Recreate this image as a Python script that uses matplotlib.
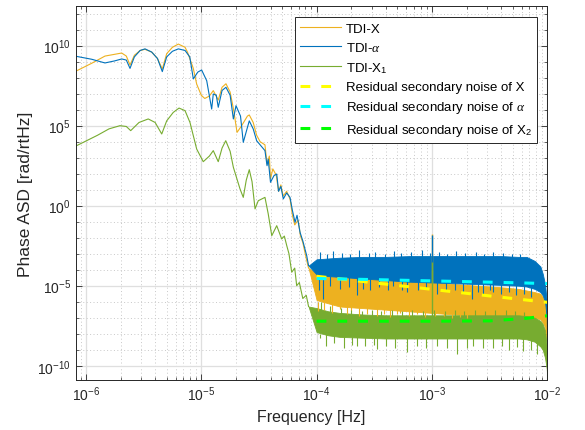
# %%
import numpy as np
import matplotlib
matplotlib.use('Agg')
import matplotlib.pyplot as plt
from matplotlib.ticker import FixedLocator, LogFormatterSciNotation, NullFormatter

plt.rcParams['font.family'] = ['Liberation Sans', 'DejaVu Sans']
plt.rcParams['mathtext.fontset'] = 'custom'
plt.rcParams['mathtext.rm'] = 'Liberation Sans'
plt.rcParams['mathtext.it'] = 'Liberation Serif:italic'

# %%
# values, as log10(frequency [Hz]) and log10(ASD)
# smooth low-frequency part of each spectrum
x_lf = [-6.089, -5.95, -5.835, -5.69, -5.65, -5.618, -5.58, -5.53, -5.488, -5.43,
        -5.38, -5.338, -5.30, -5.25, -5.199, -5.141, -5.12, -5.07, -5.04, -5.0,
        -4.97, -4.93, -4.896, -4.853, -4.82, -4.786, -4.75, -4.72, -4.69, -4.65,
        -4.60, -4.584, -4.55, -4.52, -4.49, -4.448, -4.43, -4.41, -4.40, -4.38,
        -4.35, -4.33, -4.31, -4.29, -4.26, -4.23, -4.21, -4.19, -4.16, -4.14,
        -4.12, -4.09, -4.07]
x_asd = [8.40, 8.9, 9.35, 9.54, 9.35, 8.79, 9.4, 9.7, 9.77, 9.6,
         9.2, 8.54, 9.5, 9.9, 10.1, 9.9, 9.6, 8.6, 7.6, 6.9,
         6.7, 6.85, 7.19, 6.6, 7.4, 7.62, 7.1, 6.0, 4.58, 5.0,
         5.6, 5.67, 5.2, 4.4, 4.0, 3.8, 2.6, 3.1, 1.67, 2.3,
         1.9, 0.9, 1.3, 0.6, 0.9, 0.4, -0.6, -1.2, -0.9, -1.9,
         -2.3, -3.3, -3.9]

a_lf = [-6.089, -5.95, -5.835, -5.75, -5.69, -5.65, -5.618, -5.58, -5.53, -5.488,
        -5.43, -5.38, -5.338, -5.30, -5.25, -5.199, -5.141, -5.10, -5.069, -5.03,
        -4.997, -4.953, -4.910, -4.896, -4.87, -4.853, -4.82, -4.786, -4.75, -4.722,
        -4.699, -4.66, -4.636, -4.584, -4.55, -4.520, -4.448, -4.43, -4.42, -4.40,
        -4.37, -4.346, -4.33, -4.31, -4.289, -4.26, -4.231, -4.21, -4.187, -4.17,
        -4.144, -4.12, -4.086, -4.07]
a_asd = [9.34, 9.15, 8.92, 9.05, 9.17, 9.1, 8.58, 9.3, 9.7, 9.8,
         9.6, 9.2, 8.38, 9.3, 9.65, 9.8, 9.7, 9.3, 7.92, 8.35,
         8.48, 7.81, 6.04, 6.98, 6.9, 6.15, 7.2, 7.4, 6.9, 5.42,
         6.25, 5.6, 3.96, 5.3, 4.8, 4.06, 3.44, 2.5, 2.9, 1.46,
         1.875, 1.98, 0.9, 1.2, 0.42, 0.8, 0.52, -0.3, -1.04, -0.6,
         -1.66, -2.2, -3.125, -3.75]

x1_lf = [-6.081, -5.9, -5.8, -5.705, -5.65, -5.612, -5.54, -5.46, -5.40, -5.343,
         -5.30, -5.243, -5.193, -5.141, -5.098, -5.04, -4.983, -4.93, -4.896, -4.853,
         -4.82, -4.788, -4.75, -4.722, -4.664, -4.636, -4.61, -4.584, -4.56, -4.534,
         -4.506, -4.448, -4.42, -4.389, -4.346, -4.303, -4.28, -4.259, -4.24, -4.216,
         -4.19, -4.173, -4.15, -4.12, -4.09, -4.07]
x1_asd = [3.75, 4.4, 4.8, 5.0, 4.95, 4.69, 5.2, 5.42, 5.2, 4.48,
          5.3, 5.83, 6.1, 5.94, 5.2, 3.54, 2.75, 3.1, 3.44, 2.75,
          3.6, 4.06, 3.4, 2.4, 1.04, 0.52, 1.6, 2.25, 1.5, -0.2,
          0.31, 0.52, -0.5, -1.875, -1.25, -2.08, -1.9, -2.5, -3.0, -4.16,
          -3.9, -5.0, -4.8, -5.8, -5.6, -6.3]

# noise floor above 1e-4 Hz: upper and lower edges of each band
band_lf = [-4.07, -4.0, -3.9, -3.8, -3.6, -3.4, -3.2, -3.0, -2.8, -2.6,
           -2.4, -2.25, -2.18, -2.11, -2.06, -2.04, -2.02, -2.005, -2.0]
a_top = [-3.75, -3.35, -3.3, -3.25, -3.2, -3.2, -3.15, -3.15, -3.15, -3.15,
         -3.15, -3.2, -3.2, -3.45, -3.8, -4.25, -4.9, -6.0, -10.0]
a_bot = [-3.75, -4.3, -4.4, -4.45, -4.55, -4.65, -4.75, -4.8, -4.85, -4.9,
         -4.95, -5.0, -5.05, -5.2, -5.4, -5.6, -6.0, -7.0, -10.0]
x_top = [-3.9, -4.2, -4.3, -4.4, -4.5, -4.6, -4.7, -4.8, -4.9, -5.0,
         -5.1, -5.2, -5.3, -5.4, -5.5, -5.7, -5.9, -7.0, -9.0]
x_bot = [-3.9, -5.9, -6.1, -6.3, -6.4, -6.5, -6.6, -6.7, -6.8, -6.9,
         -6.9, -6.95, -7.0, -7.0, -7.1, -7.3, -7.6, -8.5, -10.0]
x1_top = [-6.3, -6.4, -6.6, -6.7, -6.8, -6.85, -6.85, -6.85, -6.85, -6.85,
          -6.85, -6.85, -6.9, -7.0, -7.2, -7.4, -7.8, -8.8, -10.8]
x1_bot = [-6.3, -7.9, -8.1, -8.2, -8.25, -8.3, -8.3, -8.3, -8.3, -8.3,
          -8.3, -8.3, -8.35, -8.5, -8.8, -9.0, -9.5, -10.2, -10.8]

# spikes sticking out of the bands (frequency, tip)
a_up_lf = [-3.97, -3.91, -3.86, -3.78, -3.71, -3.63, -3.55, -3.49, -3.41, -3.33,
           -3.27, -3.18, -3.09, -3.02, -2.94, -2.87, -2.79, -2.71, -2.62, -2.55,
           -2.47, -2.38, -2.31, -2.24]
a_up = [-2.9, -3.0, -2.85, -2.95, -3.0, -2.8, -2.95, -2.9, -3.0, -2.85,
        -2.95, -2.9, -2.8, -2.95, -2.9, -3.0, -2.85, -2.95, -2.9, -3.0,
        -2.9, -2.95, -3.0, -3.0]
a_dn_lf = [-3.98, -3.942, -3.88, -3.80, -3.72, -3.652, -3.60, -3.537, -3.46, -3.38,
           -3.335, -3.26, -3.219, -3.12, -3.05, -2.96, -2.88, -2.80, -2.728, -2.655,
           -2.60, -2.554, -2.50, -2.468, -2.40, -2.33, -2.27, -2.20, -2.14]
a_dn = [-5.3, -5.83, -5.0, -5.2, -5.1, -5.6, -5.2, -5.3, -5.1, -5.3,
        -5.0, -5.25, -5.4, -5.3, -5.2, -5.5, -5.3, -5.3, -5.4, -5.83,
        -5.4, -5.6, -5.3, -5.4, -5.5, -5.4, -5.6, -5.5, -5.7]
x_dn_lf = [-3.985, -3.935, -3.87, -3.797, -3.74, -3.70, -3.63, -3.56, -3.479, -3.42,
           -3.363, -3.30, -3.277, -3.20, -3.132, -3.06, -2.97, -2.9, -2.83, -2.76,
           -2.7]
x_dn = [-6.6, -6.5, -6.7, -6.46, -6.8, -6.6, -6.9, -6.75, -6.875, -6.8,
        -6.96, -6.8, -6.7, -6.9, -6.8, -6.95, -6.9, -6.9, -7.0, -6.95,
        -7.0]
x1_up_lf = [-3.96, -3.88, -3.79, -3.70, -3.61, -3.52, -3.44, -3.35, -3.26, -3.17,
            -3.08, -2.98, -2.89, -2.80, -2.72, -2.63, -2.54, -2.45, -2.36, -2.28,
            -2.20]
x1_up = [-6.0, -6.3, -6.4, -6.5, -6.6, -6.5, -6.6, -6.55, -6.6, -6.5,
         -6.6, -6.55, -6.6, -6.5, -6.6, -6.55, -6.6, -6.5, -6.55, -6.6,
         -6.65]
x1_dn_lf = [-3.97, -3.92, -3.85, -3.76, -3.69, -3.652, -3.58, -3.50, -3.479, -3.40,
            -3.32, -3.219, -3.132, -3.05, -2.96, -2.87, -2.785, -2.70, -2.641, -2.56,
            -2.468, -2.39, -2.33, -2.265, -2.207, -2.14, -2.09]
x1_dn = [-8.3, -8.8, -8.6, -8.9, -8.7, -8.75, -8.8, -8.7, -8.96, -8.8,
         -8.9, -9.14, -8.75, -8.9, -8.8, -8.9, -9.27, -8.9, -8.8, -8.9,
         -8.9, -8.8, -9.0, -8.85, -9.1, -9.0, -9.3]

# line at 1 mHz
line_lf = -3.0
line_top = [-1.77, -1.85, -3.5]

# residual secondary noise
res_lf = [-4.0, -3.5, -3.0, -2.5, -2.2, -2.0]
res_x = [-4.41, -4.82, -5.23, -5.64, -5.88, -6.04]
res_a = [-4.55, -4.62, -4.70, -4.78, -4.83, -4.87]
res_x2 = [-7.22, -7.22, -7.22, -7.2, -7.05, -6.88]

c_x = '#EDB120'
c_a = '#0072BD'
c_x1 = '#77AC30'

# %%
fig = plt.figure(figsize=(5.85, 4.31), dpi=100)
ax = fig.add_axes([0.1294, 0.1167, 0.8062, 0.8671])

P = lambda v: 10.0 ** np.asarray(v)

# TDI-X
ax.plot(P(x_lf), P(x_asd), color=c_x, lw=0.8, label='TDI-X')
ax.fill_between(P(band_lf), P(x_bot), P(x_top), color=c_x, lw=0.6, edgecolor=c_x)
ax.vlines(P(x_dn_lf), P(x_dn), 10.0 ** -6.0, color=c_x, lw=0.8)
ax.vlines(10.0 ** line_lf, 10.0 ** -6.0, 10.0 ** line_top[0], color=c_x, lw=1.0)

# TDI-alpha
ax.plot(P(a_lf), P(a_asd), color=c_a, lw=0.8, label=r'TDI-$\alpha$')
ax.fill_between(P(band_lf), P(a_bot), P(a_top), color=c_a, lw=0.6, edgecolor=c_a)
ax.vlines(P(a_up_lf), 10.0 ** -3.6, P(a_up), color=c_a, lw=0.8)
ax.vlines(P(a_dn_lf), P(a_dn), 10.0 ** -4.4, color=c_a, lw=0.8)
ax.vlines(10.0 ** line_lf, 10.0 ** -4.0, 10.0 ** line_top[1], color=c_a, lw=1.0)

# TDI-X1
ax.plot(P(x1_lf), P(x1_asd), color=c_x1, lw=0.8, label=r'TDI-X$_1$')
ax.fill_between(P(band_lf), P(x1_bot), P(x1_top), color=c_x1, lw=0.6, edgecolor=c_x1)
ax.vlines(P(x1_up_lf), 10.0 ** -7.2, P(x1_up), color=c_x1, lw=0.8)
ax.vlines(P(x1_dn_lf), P(x1_dn), 10.0 ** -8.0, color=c_x1, lw=0.8)
ax.vlines(10.0 ** line_lf, 10.0 ** -7.5, 10.0 ** line_top[2], color=c_x1, lw=1.0)

dash = (0, (3.2, 3.6))
ax.plot(P(res_lf), P(res_x), color='#FFFF00', lw=2.2, ls=dash, label='Residual secondary noise of X')
ax.plot(P(res_lf), P(res_a), color='#00FFFF', lw=2.2, ls=dash, label=r'Residual secondary noise of $\alpha$')
ax.plot(P(res_lf), P(res_x2), color='#00FF00', lw=2.2, ls=dash, label=r'Residual secondary noise of X$_2$')

ax.set_xscale('log')
ax.set_yscale('log')
ax.set_xlim(8.15e-7, 1.0e-2)
ax.set_ylim(10 ** -10.875, 10 ** 12.48)

ax.yaxis.set_major_locator(FixedLocator([1e-10, 1e-5, 1e0, 1e5, 1e10]))
ax.yaxis.set_minor_locator(FixedLocator([10.0 ** k for k in range(-11, 13) if k % 5]))
ax.yaxis.set_major_formatter(LogFormatterSciNotation())
ax.yaxis.set_minor_formatter(NullFormatter())

ax.grid(True, which='major', color='#DFDFDF', lw=0.9, ls='-')
ax.grid(True, which='minor', color='#C8C8C8', lw=0.7, ls=(0, (1, 2.5)))
ax.set_axisbelow(True)

ax.tick_params(which='both', direction='in', top=True, right=True, colors='#262626',
               labelsize=10, labelcolor='#262626')
ax.tick_params(which='major', length=4.5, width=0.6)
ax.tick_params(which='minor', length=2.5, width=0.5)
for s in ax.spines.values():
    s.set_color('#262626')
    s.set_linewidth(0.7)

ax.set_xlabel('Frequency [Hz]', fontsize=11.5, color='#262626')
ax.set_ylabel('Phase ASD [rad/rtHz]', fontsize=12.5, color='#262626', labelpad=3)

leg = ax.legend(loc='upper right', bbox_to_anchor=(0.978, 0.971), borderaxespad=0,
                fontsize=9.5, handlelength=3.1, handletextpad=0.35, labelspacing=0.47,
                fancybox=False, framealpha=1, edgecolor='#262626', borderpad=0.42)
leg.get_frame().set_linewidth(0.7)

plt.savefig('out.png', facecolor='white')
plt.close()
